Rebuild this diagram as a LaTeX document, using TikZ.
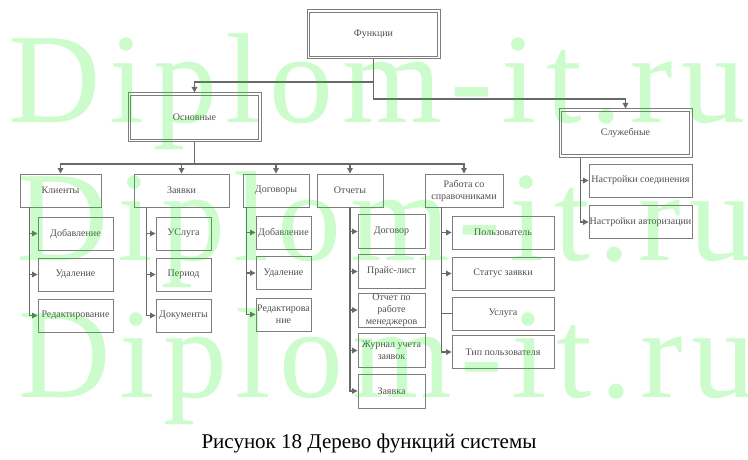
\documentclass[tikz,border=0pt]{standalone}
\usepackage{fontspec}
\setmainfont{Liberation Serif}
\newfontfamily\wmfont[LetterSpace=6.7]{Liberation Serif}
\usetikzlibrary{arrows.meta}
\definecolor{linegray}{RGB}{105,105,105}
\definecolor{boxgray}{RGB}{125,125,125}
\definecolor{txtgray}{RGB}{80,80,80}
\definecolor{wmgreen}{RGB}{0,240,0}
\tikzset{
  box/.style={draw=boxgray, line width=0.9pt, text=txtgray, inner sep=0pt, align=center,
    font=\fontsize{10}{12}\selectfont, minimum height=33pt},
  dbox/.style={box, line width=1pt, minimum width=133pt, minimum height=49pt},
  inner/.style={draw=boxgray, line width=0.9pt},
  conn/.style={draw=linegray, line width=1.2pt},
  arr/.style={conn, -{Triangle[length=5.5pt,width=5.5pt]}},
  wm/.style={anchor=base west, inner sep=0pt, text=wmgreen, opacity=0.2,
    font=\wmfont\fontsize{128}{128}\selectfont}
}
\begin{document}
\begin{tikzpicture}[x=1pt,y=-1pt]
\fill[white] (0,0) rectangle (748,460);
\useasboundingbox (0,0) rectangle (748,460);

% top levels
\node[dbox] (func) at (373.5,34.5) {Функции};
\node[dbox] (osn) at (194.5,117.5) {Основные};
\node[dbox, minimum height=48pt] (slu) at (625.5,133) {Служебные};
\foreach \n in {func,osn,slu}
  \draw[inner] ([shift={(3,3)}]\n.north west) rectangle ([shift={(-3,-3)}]\n.south east);

% level 2
\node[box, minimum width=81pt] (kl) at (60.5,190.5) {Клиенты};
\node[box, minimum width=95pt] (za) at (181.5,190.5) {Заявки};
\node[box, minimum width=66pt] (do) at (276,190.5) {Договоры};
\node[box, minimum width=66pt] (ot) at (350,190.5) {Отчеты};
\node[box, minimum width=78pt] (ra) at (464,190.5) {Работа со\\справочниками};

% Клиенты children
\node[box, minimum width=75pt] (kl1) at (75.5,233.5) {Добавление};
\node[box, minimum width=75pt] (kl2) at (75.5,274.5) {Удаление};
\node[box, minimum width=75pt] (kl3) at (75.5,315.5) {Редактирование};

% Заявки children
\node[box, minimum width=55pt] (za1) at (183.5,233.5) {УСлуга};
\node[box, minimum width=55pt] (za2) at (183.5,274.5) {Период};
\node[box, minimum width=55pt] (za3) at (183.5,315.5) {Документы};

% Договоры children
\node[box, minimum width=55pt] (do1) at (283.5,232.5) {Добавление};
\node[box, minimum width=55pt] (do2) at (283.5,273) {Удаление};
\node[box, minimum width=55pt] (do3) at (283.5,314.5) {Редактирова\\ние};

% Отчеты children
\node[box, minimum width=67pt, minimum height=34pt] (ot1) at (391.5,231.5) {Договор};
\node[box, minimum width=67pt, minimum height=34pt] (ot2) at (391.5,271.5) {Прайс-лист};
\node[box, minimum width=67pt, minimum height=34pt] (ot3) at (391.5,310) {Отчет по\\работе\\менеджеров};
\node[box, minimum width=67pt, minimum height=34pt] (ot4) at (391.5,350.5) {Журнал учета\\заявок};
\node[box, minimum width=67pt, minimum height=34pt] (ot5) at (391.5,391) {Заявка};

% Работа children
\node[box, minimum width=102pt] (ra1) at (503,232.5) {Пользователь};
\node[box, minimum width=102pt] (ra2) at (503,273.5) {Статус заявки};
\node[box, minimum width=102pt] (ra3) at (503,313.5) {Услуга};
\node[box, minimum width=102pt] (ra4) at (503,352) {Тип пользователя};

% Служебные children
\node[box, minimum width=103pt] (sl1) at (640.5,180.5) {Настройки соединения};
\node[box, minimum width=103pt] (sl2) at (640.5,222) {Настройки авторизации};

% top connectors
\coordinate (t1) at (373.5,82);
\coordinate (t2) at (373.5,99);
\draw[arr] (func.south) -- (t1) -| (osn.north);
\draw[arr] (func.south) -- (t2) -| (slu.north);

% level 2 bar
\coordinate (bar) at (194.5,164);
\draw[conn] (osn.south) -- (bar);
\draw[arr] (bar) -| (kl.north);
\draw[arr] (bar) -| (za.north);
\draw[arr] (bar) -| (do.north);
\draw[arr] (bar) -| (ot.north);
\draw[arr] (bar) -| (ra.north);

% children connectors
\foreach \c in {kl1,kl2,kl3} \draw[arr] ([xshift=10pt]kl.south west) |- (\c.west);
\foreach \c in {za1,za2,za3} \draw[arr] ([xshift=13pt]za.south west) |- (\c.west);
\foreach \c in {do1,do2,do3} \draw[arr] ([xshift=4pt]do.south west) |- (\c.west);
\foreach \c in {ot1,ot2,ot3,ot4,ot5} \draw[arr] (ot.south) |- (\c.west);
\foreach \c in {ra1,ra2,ra4} \draw[arr] ([xshift=17pt]ra.south west) |- (\c.west);
\draw[conn] ([xshift=17pt]ra.south west) |- (ra3.west);
\foreach \c in {sl1,sl2} \draw[arr] ([xshift=22pt]slu.south west) |- (\c.west);

% caption
\node[anchor=base, inner sep=0pt, font=\fontsize{21}{24}\selectfont, text=black] (cap) at (369,448) {Рисунок 18 Дерево функций системы};

% watermark
\node[wm] (w1) at (8,122) {Diplom-it.ru};
\node[wm] (w2) at (16,260) {Diplom-it.ru};
\node[wm] (w3) at (18,397) {Diplom-it.ru};
\end{tikzpicture}
\end{document}
